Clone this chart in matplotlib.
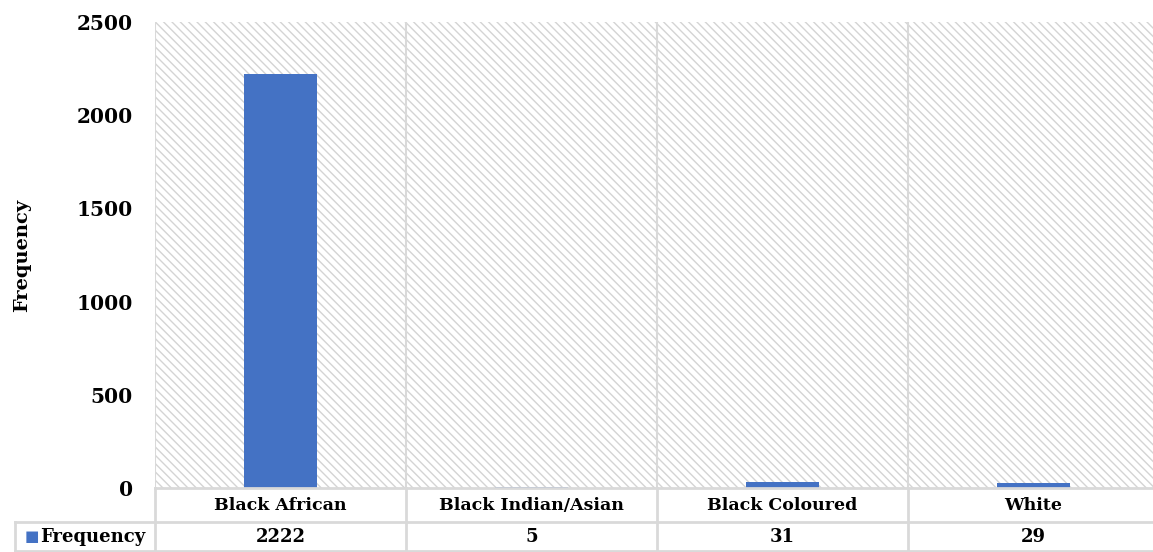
import matplotlib.pyplot as plt
import matplotlib as mpl
import numpy as np

categories = ['Black African', 'Black Indian/Asian', 'Black Coloured', 'White']
frequency = [2222, 5, 31, 29]
series_name = 'Frequency'
yticks = [0, 500, 1000, 1500, 2000, 2500]

bar_color = '#4472C4'
line_color = '#D9D9D9'
font = {'family': 'DejaVu Serif', 'weight': 'bold'}

mpl.rcParams['hatch.color'] = '#D4D4D4'
mpl.rcParams['hatch.linewidth'] = 1.0

W, H = 1153, 552
left_px, right_px, top_px, bottom_px = 155, 1159, 22, 488
col_px = (right_px - left_px) / len(categories)

fig = plt.figure(figsize=(W / 100, H / 100), dpi=100)
ax = fig.add_axes([left_px / W, 1 - bottom_px / H, (right_px - left_px) / W, (bottom_px - top_px) / H])

n = len(categories)
x = np.arange(n)
ax.set_xlim(-0.5, n - 0.5)
ax.set_ylim(0, 2500)

# hatched background like the Excel pattern fill
ax.add_patch(plt.Rectangle((-0.5, 0), n, 2500, facecolor='white', edgecolor='#D4D4D4',
                           hatch='\\\\\\\\', linewidth=0, zorder=0))
ax.bar(x, frequency, width=0.29, color=bar_color, zorder=2)

for b in np.arange(-0.5, n + 0.5, 1):
    ax.axvline(b, color=line_color, lw=1.5, zorder=1)

for s in ax.spines.values():
    s.set_visible(False)
ax.set_xticks([])
ax.set_yticks(yticks)
ax.set_yticklabels([str(t) for t in yticks], fontsize=14.5, **font)
ax.tick_params(axis='y', length=0, pad=16)
ax.set_ylabel('Frequency', fontsize=14, **font)
ax.yaxis.set_label_coords((31 - left_px) / (right_px - left_px), 0.5)

# data table below the axes
tr = ax.get_xaxis_transform()
span = bottom_px - top_px
y0 = 0.0
y1 = -(522 - bottom_px) / span
y2 = -(551 - bottom_px) / span
x_left = -0.5 - (left_px - 15) / col_px
ax.plot([-0.5, n - 0.5], [y0, y0], transform=tr, color=line_color, lw=2, clip_on=False)
ax.plot([x_left, n - 0.5], [y1, y1], transform=tr, color=line_color, lw=2, clip_on=False)
ax.plot([x_left, n - 0.5], [y2, y2], transform=tr, color=line_color, lw=2, clip_on=False)
ax.plot([x_left, x_left], [y1, y2], transform=tr, color=line_color, lw=2, clip_on=False)
for b in np.arange(-0.5, n + 0.5, 1):
    ax.plot([b, b], [y0, y2], transform=tr, color=line_color, lw=2, clip_on=False)

for i, (c, v) in enumerate(zip(categories, frequency)):
    ax.text(i, (y0 + y1) / 2, c, transform=tr, ha='center', va='center', fontsize=12.5, **font)
    ax.text(i, (y1 + y2) / 2, str(v), transform=tr, ha='center', va='center', fontsize=13, **font)

ax.text(x_left + 10 / col_px, (y1 + y2) / 2, '\u25a0', transform=tr, ha='left', va='center',
        fontsize=11, color=bar_color, family='DejaVu Sans')
ax.text(x_left + 25 / col_px, (y1 + y2) / 2, series_name, transform=tr, ha='left', va='center',
        fontsize=13, **font)

fig.savefig('out.png', dpi=100)
